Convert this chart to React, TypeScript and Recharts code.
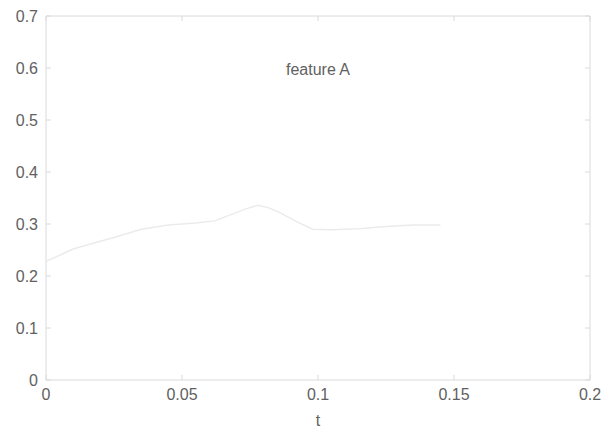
import { LineChart, Line, XAxis, YAxis, ReferenceArea } from "recharts";

const tValues = [0, 0.005, 0.01, 0.018, 0.025, 0.035, 0.045, 0.055, 0.062, 0.068, 0.074, 0.078, 0.082, 0.086, 0.092, 0.098, 0.105, 0.115, 0.125, 0.135, 0.145];
const featureA = [0.228, 0.24, 0.252, 0.264, 0.274, 0.29, 0.298, 0.302, 0.306, 0.318, 0.33, 0.336, 0.331, 0.322, 0.305, 0.29, 0.289, 0.291, 0.295, 0.298, 0.298];
const xTicks = [0, 0.05, 0.1, 0.15, 0.2];
const yTicks = [0, 0.1, 0.2, 0.3, 0.4, 0.5, 0.6, 0.7];

const data = tValues.map((t, i) => ({ t, a: featureA[i] }));

const W = 608;
const H = 430;
const LEFT = 46;
const RIGHT = 590;
const TOP = 16;
const BOTTOM = 380;
const TEXT = "#616161";
const AXIS = "#dadada";
const FONT = "'Liberation Sans', Arial, sans-serif";

const fmt = (v: number) => String(v);

function YTick(props: any) {
  const { x, y, payload } = props;
  return (
    <g>
      <line x1={LEFT} x2={LEFT + 5} y1={y} y2={y} stroke={AXIS} />
      <line x1={RIGHT} x2={RIGHT - 5} y1={y} y2={y} stroke={AXIS} />
      <text x={x} y={y} dy="0.35em" textAnchor="end" fill={TEXT} fontSize={16} fontFamily={FONT}>
        {fmt(payload.value)}
      </text>
    </g>
  );
}

function XTick(props: any) {
  const { x, y, payload } = props;
  return (
    <g>
      <line x1={x} x2={x} y1={BOTTOM} y2={BOTTOM - 5} stroke={AXIS} />
      <line x1={x} x2={x} y1={TOP} y2={TOP + 5} stroke={AXIS} />
      <text x={x} y={y} dy="0.71em" textAnchor="middle" fill={TEXT} fontSize={16} fontFamily={FONT}>
        {fmt(payload.value)}
      </text>
    </g>
  );
}

export default function App() {
  return (
    <div style={{ position: "absolute", left: 0, top: 0, width: W, height: H, background: "#fff" }}>
      <LineChart width={W} height={H} data={data} margin={{ top: TOP, right: W - RIGHT, bottom: 0, left: 8 }}>
        <XAxis
          dataKey="t"
          type="number"
          domain={[0, 0.2]}
          ticks={xTicks}
          tickSize={0}
          tickMargin={9}
          tickLine={false}
          axisLine={false}
          height={H - BOTTOM}
          tick={<XTick />}
          label={{ value: "t", position: "insideBottom", offset: 4, fill: TEXT, fontSize: 16, fontFamily: FONT }}
        />
        <YAxis
          type="number"
          domain={[0, 0.7]}
          ticks={yTicks}
          tickSize={0}
          tickMargin={8}
          tickLine={false}
          axisLine={false}
          width={LEFT - 8}
          tick={<YTick />}
        />
        <ReferenceArea x1={0} x2={0.2} y1={0} y2={0.7} fill="none" stroke={AXIS} strokeWidth={1} ifOverflow="visible" />
        <Line
          type="linear"
          dataKey="a"
          stroke="#ebebeb"
          strokeWidth={1.5}
          dot={false}
          isAnimationActive={false}
        />
      </LineChart>
      <div
        style={{
          position: "absolute",
          left: (LEFT + RIGHT) / 2 - 60,
          width: 120,
          top: 61,
          textAlign: "center",
          fontFamily: FONT,
          fontSize: 16,
          color: TEXT,
        }}
      >
        feature A
      </div>
    </div>
  );
}
